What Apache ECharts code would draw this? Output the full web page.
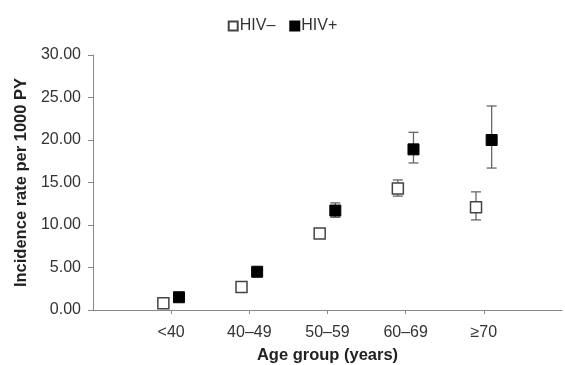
<!DOCTYPE html>
<html>
<head>
<meta charset="utf-8">
<script src="https://cdn.jsdelivr.net/npm/echarts@6/dist/echarts.min.js"></script>
<style>
  html, body { margin: 0; padding: 0; background: #fff; }
  #chart { width: 565px; height: 365px; }
</style>
</head>
<body>
<div id="chart"></div>
<script>
// Age groups on the x axis
const categories = ['<40', '40–49', '50–59', '60–69', '≥70'];

// Incidence rate per 1000 person-years, with 95% CI bounds
const hivNeg     = [0.8, 2.7, 9.0, 14.3, 12.1];
const hivNegLow  = [0.6, 2.5, 8.7, 13.4, 10.6];
const hivNegHigh = [1.0, 2.9, 9.3, 15.3, 13.9];

const hivPos     = [1.5, 4.5, 11.7, 18.9, 20.0];
const hivPosLow  = [1.1, 4.1, 10.9, 17.3, 16.7];
const hivPosHigh = [1.9, 4.9, 12.6, 20.9, 24.0];

const yTicks = [0, 5, 10, 15, 20, 25, 30];

// Horizontal shift of each group around its category tick
const SHIFT = 0.1;

function points(vals, dx) {
  return vals.map((v, i) => [i + 1 + dx, v]);
}
function bars(lo, hi, dx) {
  return lo.map((l, i) => [i + 1 + dx, l, hi[i]]);
}

function errorBar(params, api) {
  const x = api.value(0);
  const lo = api.coord([x, api.value(1)]);
  const hi = api.coord([x, api.value(2)]);
  const cap = 5;
  const style = { stroke: '#666', lineWidth: 1.3 };
  return {
    type: 'group',
    children: [
      { type: 'line', shape: { x1: lo[0], y1: lo[1], x2: hi[0], y2: hi[1] }, style },
      { type: 'line', shape: { x1: lo[0] - cap, y1: lo[1], x2: lo[0] + cap, y2: lo[1] }, style },
      { type: 'line', shape: { x1: hi[0] - cap, y1: hi[1], x2: hi[0] + cap, y2: hi[1] }, style }
    ]
  };
}

const chart = echarts.init(document.getElementById('chart'), null, { renderer: 'canvas' });

const FONT = 'Liberation Sans, Arial, sans-serif';
const labelFont = { fontFamily: FONT, fontSize: 16, color: '#333' };
const titleFont = { fontFamily: FONT, fontSize: 16.5, fontWeight: 'bold', color: '#222' };

chart.setOption({
  animation: false,
  backgroundColor: '#fff',
  legend: {
    top: 13,
    left: 'center',
    itemWidth: 9,
    itemHeight: 9,
    itemGap: 14,
    textStyle: Object.assign({}, labelFont, { padding: [0, 0, 0, -3] }),
    data: [
      { name: 'HIV–', icon: 'rect' },
      { name: 'HIV+', icon: 'rect' }
    ]
  },
  grid: { left: 93, right: 3, top: 55, bottom: 55, containLabel: false, outerBoundsMode: 'none' },
  xAxis: {
    type: 'value',
    min: 0,
    max: 6,
    interval: 1,
    name: 'Age group (years)',
    nameLocation: 'middle',
    nameGap: 37,
    nameTextStyle: titleFont,
    axisLine: { show: true, lineStyle: { color: '#888', width: 1 } },
    axisTick: { show: true, length: 4, customValues: [1, 2, 3, 4, 5], lineStyle: { color: '#888' } },
    axisLabel: Object.assign({}, labelFont, {
      margin: 15,
      customValues: [1, 2, 3, 4, 5],
      formatter: v => categories[Math.round(v) - 1] || ''
    }),
    splitLine: { show: false }
  },
  yAxis: {
    type: 'value',
    min: yTicks[0],
    max: yTicks[yTicks.length - 1],
    interval: 5,
    name: 'Incidence rate per 1000 PY',
    nameLocation: 'middle',
    nameGap: 63,
    nameTextStyle: titleFont,
    axisLine: { show: true, lineStyle: { color: '#888', width: 1 } },
    axisTick: { show: true, length: 5, lineStyle: { color: '#888' } },
    axisLabel: Object.assign({}, labelFont, { margin: 12, formatter: v => v.toFixed(2) }),
    splitLine: { show: false }
  },
  series: [
    {
      name: 'HIV– CI',
      type: 'custom',
      renderItem: errorBar,
      data: bars(hivNegLow, hivNegHigh, -SHIFT),
      encode: { x: 0, y: [1, 2] },
      zlevel: 0,
      silent: true
    },
    {
      name: 'HIV+ CI',
      type: 'custom',
      renderItem: errorBar,
      data: bars(hivPosLow, hivPosHigh, SHIFT),
      encode: { x: 0, y: [1, 2] },
      zlevel: 0,
      silent: true
    },
    {
      name: 'HIV–',
      type: 'scatter',
      symbol: 'rect',
      symbolSize: 11,
      itemStyle: { color: '#fff', borderColor: '#444', borderWidth: 1.5, opacity: 1 },
      data: points(hivNeg, -SHIFT),
      zlevel: 1
    },
    {
      name: 'HIV+',
      type: 'scatter',
      symbol: 'rect',
      symbolSize: 11,
      itemStyle: { color: '#000', borderColor: '#000', borderWidth: 1, opacity: 1 },
      data: points(hivPos, SHIFT),
      zlevel: 1
    }
  ]
});
</script>
</body>
</html>
